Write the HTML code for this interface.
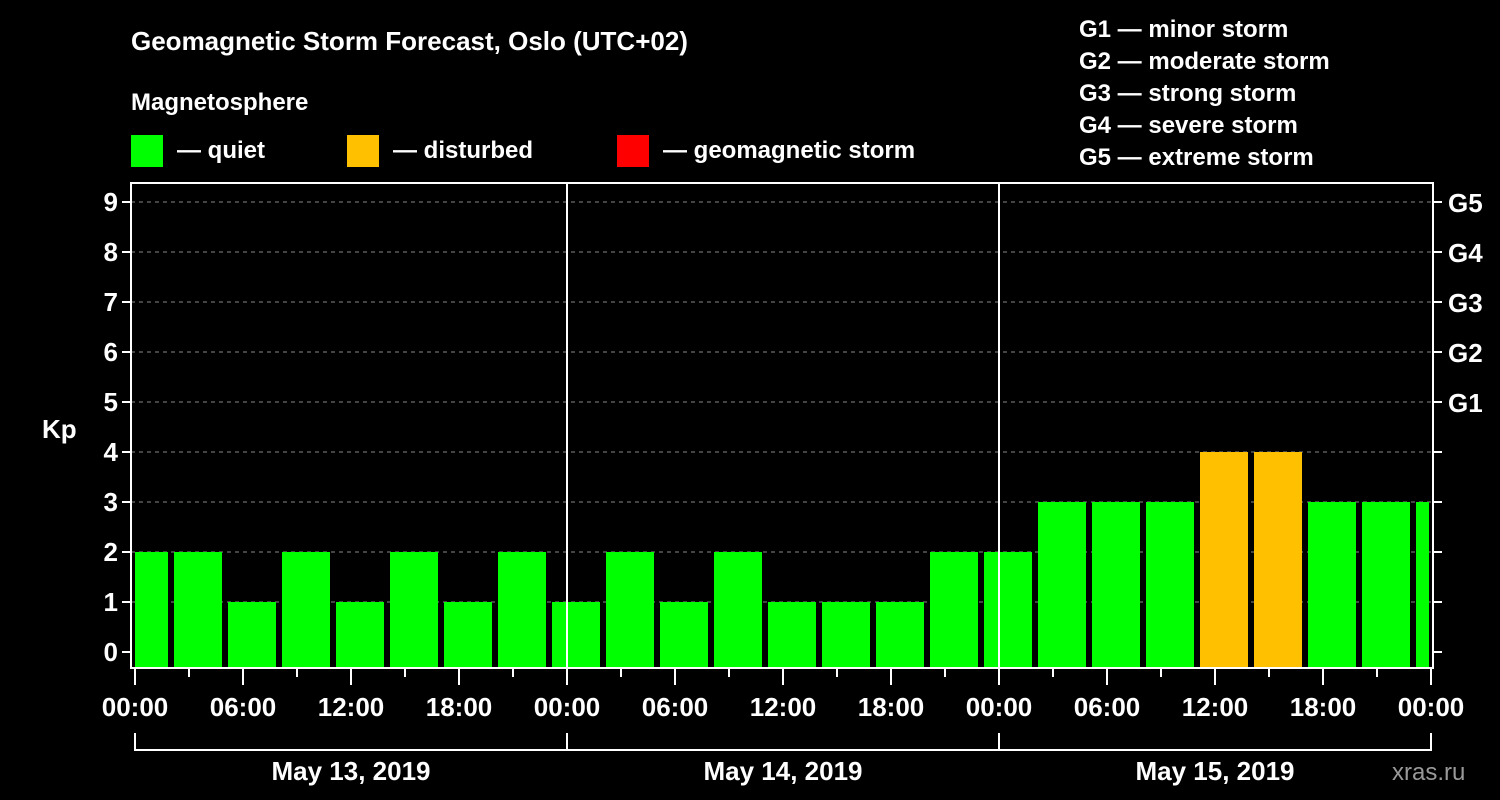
<!DOCTYPE html>
<html><head><meta charset="utf-8"><style>
body{margin:0;background:#000;width:1500px;height:800px;overflow:hidden}
svg{display:block;font-family:"Liberation Sans",Arial,sans-serif;font-weight:bold;fill:#fff}
</style></head><body>
<svg id="c" width="1500" height="800">
<text x="131" y="50" font-size="26">Geomagnetic Storm Forecast, Oslo (UTC+02)</text>
<text x="131" y="110" font-size="24">Magnetosphere</text>
<g>
<rect x="131" y="135" width="32" height="32" fill="#00ff00"/>
<text x="177" y="158" font-size="24">— quiet</text>
<rect x="347" y="135" width="32" height="32" fill="#ffc000"/>
<text x="393" y="158" font-size="24">— disturbed</text>
<rect x="617" y="135" width="32" height="32" fill="#ff0000"/>
<text x="663" y="158" font-size="24">— geomagnetic storm</text>
</g>
<g font-size="24">
<text x="1079" y="37">G1 — minor storm</text>
<text x="1079" y="69">G2 — moderate storm</text>
<text x="1079" y="101">G3 — strong storm</text>
<text x="1079" y="133">G4 — severe storm</text>
<text x="1079" y="165">G5 — extreme storm</text>
</g>
<text x="42" y="438" font-size="26">Kp</text>
<text x="1392" y="780" font-size="24" fill="#888" style="fill:#999;font-weight:normal">xras.ru</text>
<g id="plot"></g>
</svg>
<script>
const values=[2,2,1,2,1,2,1,2,1,2,1,2,1,1,1,2,2,3,3,3,4,4,3,3,3];
const yTicks=[0,1,2,3,4,5,6,7,8,9];
const gLabels=["G1","G2","G3","G4","G5"];
const xTickLabels=["00:00","06:00","12:00","18:00","00:00","06:00","12:00","18:00","00:00","06:00","12:00","18:00","00:00"];
const dayLabels=["May 13, 2019","May 14, 2019","May 15, 2019"];
const L=131,R=1433,T=183,B=668,X0=135,PXH=18;
const x=h=>X0+h*PXH, y=v=>652-v*50;
const ns="http://www.w3.org/2000/svg", g=document.getElementById('plot');
function mk(t,a,p){const e=document.createElementNS(ns,t);for(const k in a)e.setAttribute(k,a[k]);(p||g).appendChild(e);return e;}
yTicks.forEach(v=>{
 if(v>0){const l=mk('line',{x1:L,x2:R,y1:y(v),y2:y(v),stroke:'#888','stroke-dasharray':'4,4','stroke-width':1});
 
 }
 mk('line',{x1:L-9,x2:L,y1:y(v),y2:y(v),stroke:'#fff','stroke-width':2});
 mk('line',{x1:R,x2:R+9,y1:y(v),y2:y(v),stroke:'#fff','stroke-width':2});
 const t=mk('text',{x:L-13,y:y(v)+9,'font-size':26,'text-anchor':'end'});t.textContent=v;
 
 
});
gLabels.forEach((s,i)=>{const t=mk('text',{x:1448,y:y(5+i)+10,'font-size':26});t.textContent=s;
 
 });
const clip=mk('clipPath',{id:'pc'});mk('rect',{x:L+4,y:T,width:R-L-4-4,height:B-T},clip);
const bars=mk('g',{'clip-path':'url(#pc)'});
values.forEach((v,i)=>{const c=x(0.5+3*i);
 const r=mk('rect',{x:c-24,y:y(v),width:48,height:B-y(v),fill:v>=5?'#ff0000':v>=4?'#ffc000':'#00ff00'},bars);
 
 });
[1,2].forEach(d=>mk('line',{x1:x(24*d),x2:x(24*d),y1:T,y2:B,stroke:'#fff','stroke-width':2}));
mk('rect',{x:L,y:T,width:R-L,height:B-T,fill:'none',stroke:'#fff','stroke-width':2});
for(let h=0;h<=72;h+=3){const major=h%6===0;mk('line',{x1:x(h),x2:x(h),y1:B,y2:B+(major?17:9),stroke:'#fff','stroke-width':2});}
xTickLabels.forEach((s,i)=>{const t=mk('text',{x:x(6*i),y:716,'font-size':26,'text-anchor':'middle'});t.textContent=s;
 
 });
mk('polyline',{points:`${x(0)},733 ${x(0)},750 ${x(72)},750 ${x(72)},733`,fill:'none',stroke:'#fff','stroke-width':2});
[1,2].forEach(d=>mk('line',{x1:x(24*d),x2:x(24*d),y1:733,y2:750,stroke:'#fff','stroke-width':2}));
dayLabels.forEach((s,i)=>{const t=mk('text',{x:x(24*i+12),y:780,'font-size':26,'text-anchor':'middle'});t.textContent=s;
 
 });
</script>
</body></html>
